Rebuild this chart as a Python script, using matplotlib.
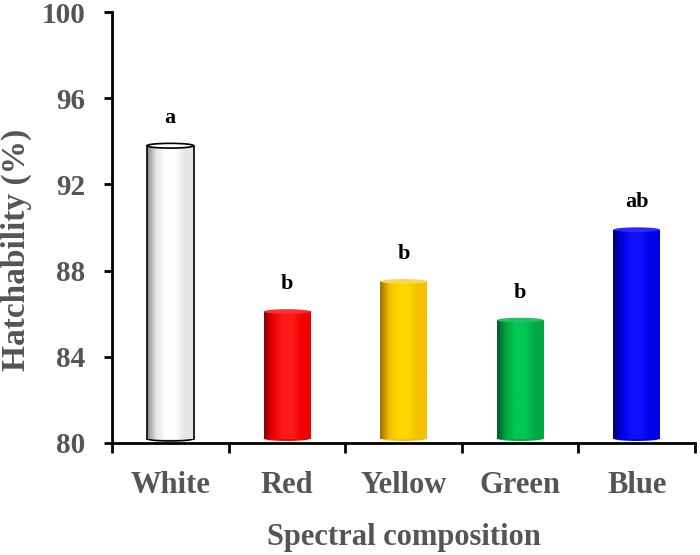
import numpy as np
import matplotlib.pyplot as plt
from matplotlib.colors import LinearSegmentedColormap
from matplotlib.patches import Ellipse

plt.rcParams['font.family'] = ['Liberation Serif', 'DejaVu Serif']
plt.rcParams['font.weight'] = 'bold'

categories = ['White', 'Red', 'Yellow', 'Green', 'Blue']
hatchability = [93.8, 86.1, 87.5, 85.7, 89.9]
letters = ['a', 'b', 'b', 'b', 'ab']
yticks = [80, 84, 88, 92, 96, 100]

# dark edge, side, highlight, top cap
shades = [
    ('#8a8a8a', '#e6e6e6', '#ffffff', '#ffffff'),
    ('#8c0000', '#f00000', '#ff1a1a', '#ff3030'),
    ('#9c7000', '#f5c000', '#ffd700', '#ffd84a'),
    ('#005a25', '#00a845', '#00c853', '#20c060'),
    ('#00006e', '#0000e6', '#1010ff', '#2a2aff'),
]

gray = '#555555'
base = 80.2
width = 0.4
cap_h = 0.22

fig = plt.figure(figsize=(7, 5.55), dpi=100)
ax = fig.add_axes([0.16, 0.202, 0.833, 0.776])

x = np.arange(len(categories))
bars = ax.bar(x, np.array(hatchability) - base, bottom=base, width=width,
              color='none', edgecolor='none', zorder=2)

for i, (b, v) in enumerate(zip(bars, hatchability)):
    dark, mid, hi, top = shades[i]
    cmap = LinearSegmentedColormap.from_list('c', [dark, mid, hi, hi, mid, mid])
    grad = np.linspace(0, 1, 200).reshape(1, -1)
    x0 = b.get_x()
    x1 = x0 + b.get_width()
    xc = x0 + width / 2
    ax.imshow(grad, extent=[x0, x1, base, v], aspect='auto', cmap=cmap,
              zorder=2, interpolation='bilinear')
    ax.add_patch(Ellipse((xc, base), width, cap_h,
                         facecolor=mid, edgecolor='none', zorder=1.9))
    if i == 0:
        ax.plot([x0, x0], [base, v], color='black', lw=1.2, zorder=3)
        ax.plot([x1, x1], [base, v], color='black', lw=1.2, zorder=3)
        ax.add_patch(Ellipse((xc, base), width, cap_h, facecolor='none',
                             edgecolor='black', lw=1.2, zorder=1.9))
        ax.add_patch(Ellipse((xc, v), width, cap_h, facecolor='white',
                             edgecolor='black', lw=1.2, zorder=3))
    else:
        ax.add_patch(Ellipse((xc, v), width, cap_h, facecolor=top,
                             edgecolor='none', zorder=3))
    ax.annotate(letters[i], (xc, v), xytext=(0, 16),
                textcoords='offset points', ha='center', va='baseline',
                fontsize=16, fontweight='bold', color='black')

ax.set_xlim(-0.5, len(categories) - 0.5)
ax.set_ylim(80, 100)
ax.set_yticks(yticks)
ax.set_xticks(x)
ax.set_xticklabels(categories)
ax.set_xticks(np.arange(len(categories) + 1) - 0.5, minor=True)

ax.tick_params(axis='y', length=6, width=2, pad=13, labelsize=21,
               labelcolor=gray)
ax.tick_params(axis='x', which='major', length=0, pad=20, labelsize=22,
               labelcolor=gray)
ax.tick_params(axis='x', which='minor', length=7, width=2)

for s in ['top', 'right']:
    ax.spines[s].set_visible(False)
for s in ['left', 'bottom']:
    ax.spines[s].set_linewidth(2)

ax.set_xlabel('Spectral composition', fontsize=22, fontweight='bold',
              color=gray)
ax.set_ylabel('Hatchability (%)', fontsize=24, fontweight='bold',
              color=gray)
ax.xaxis.set_label_coords(0.5, -0.186)
ax.yaxis.set_label_coords(-0.137, 0.448)

fig.savefig('out.png', dpi=100)
